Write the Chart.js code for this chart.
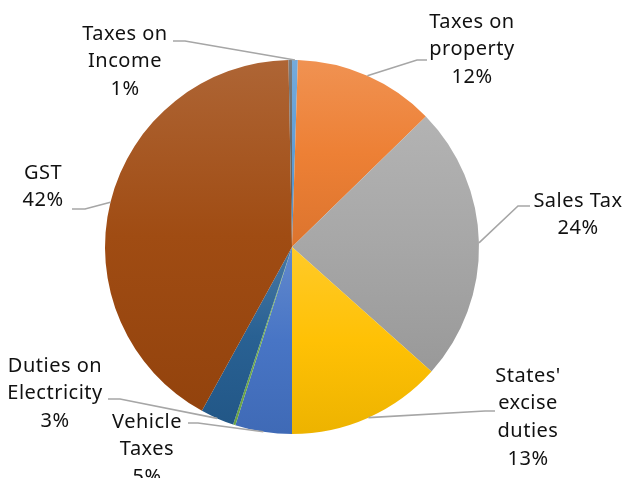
<!DOCTYPE html>
<html>
<head>
<meta charset="utf-8">
<script src="https://cdn.jsdelivr.net/npm/chart.js@4.4.1/dist/chart.umd.min.js"></script>
<style>
  html, body { margin: 0; padding: 0; background: #ffffff; }
  #wrap { width: 627px; height: 478px; position: relative; }
</style>
</head>
<body>
<div id="wrap"><canvas id="c" width="627" height="478"></canvas></div>
<script>
// ---- data ----
const categories = [
  ["Taxes on", "Income"],
  ["Taxes on", "property"],
  ["Sales Tax"],
  ["States'", "excise", "duties"],
  ["Vehicle", "Taxes"],
  ["Other"],
  ["Duties on", "Electricity"],
  ["GST"],
  ["Others"]
];
const shares = [0.5, 12.2, 23.9, 13.4, 4.9, 0.2, 2.9, 41.7, 0.3];
const showLabel = [true, true, true, true, true, false, true, true, false];

// ---- styles ----
const baseColors = ["#5B9BD5", "#ED7D31", "#A5A5A5", "#FFC000", "#4472C4", "#70AD47", "#255E91", "#9E480E", "#636363"];

// label layout: centre x, first line centre y, leader start (x,y), elbow x
const labelLayout = {
  0: { cx: 125, cy: 34, sx: 173, sy: 41, ex: 185 },
  1: { cx: 472, cy: 22, sx: 427, sy: 60, ex: 417 },
  2: { cx: 578, cy: 201, sx: 530, sy: 206, ex: 518 },
  3: { cx: 528, cy: 376, sx: 495, sy: 411, ex: 485 },
  4: { cx: 147, cy: 422, sx: 188, sy: 423, ex: 198 },
  6: { cx: 55, cy: 366, sx: 108, sy: 399, ex: 120 },
  7: { cx: 43, cy: 173, sx: 72, sy: 209, ex: 85 }
};
const LINE_H = 27.6;
const FONT = '20px "Noto Sans", "DejaVu Sans", sans-serif';

function hexToRgb(h) {
  const n = parseInt(h.slice(1), 16);
  return [(n >> 16) & 255, (n >> 8) & 255, n & 255];
}
function mix(rgb, target, t) {
  return 'rgb(' + rgb.map((v, i) => Math.round(v + (target[i] - v) * t)).join(',') + ')';
}

function sliceGradient(ctx) {
  const chart = ctx.chart;
  const area = chart.chartArea;
  const base = baseColors[ctx.dataIndex];
  if (!area) return base;
  const cx = (area.left + area.right) / 2;
  const cy = (area.top + area.bottom) / 2;
  const r = Math.min(area.right - area.left, area.bottom - area.top) / 2;
  const data = ctx.dataset.data;
  const total = data.reduce((a, b) => a + b, 0);
  let before = 0;
  for (let i = 0; i < ctx.dataIndex; i++) before += data[i];
  const a0 = -Math.PI / 2 + before / total * 2 * Math.PI;
  const a1 = a0 + data[ctx.dataIndex] / total * 2 * Math.PI;
  let minY = cy, maxY = cy;
  const steps = 60;
  for (let k = 0; k <= steps; k++) {
    const a = a0 + (a1 - a0) * k / steps;
    const y = cy + r * Math.sin(a);
    minY = Math.min(minY, y);
    maxY = Math.max(maxY, y);
  }
  if (maxY - minY < 1) maxY = minY + 1;
  const rgb = hexToRgb(base);
  const g = chart.ctx.createLinearGradient(0, minY, 0, maxY);
  g.addColorStop(0, mix(rgb, [255, 255, 255], 0.16));
  g.addColorStop(0.5, mix(rgb, [255, 255, 255], 0.02));
  g.addColorStop(1, mix(rgb, [0, 0, 0], 0.07));
  return g;
}

const labelPlugin = {
  id: 'pieLabels',
  afterDatasetsDraw(chart) {
    const ctx = chart.ctx;
    const meta = chart.getDatasetMeta(0);
    const data = chart.data.datasets[0].data;
    const total = data.reduce((a, b) => a + b, 0);
    ctx.save();
    meta.data.forEach((arc, i) => {
      if (!showLabel[i]) return;
      const L = labelLayout[i];
      const mid = (arc.startAngle + arc.endAngle) / 2;
      const px = arc.x + arc.outerRadius * Math.cos(mid);
      const py = arc.y + arc.outerRadius * Math.sin(mid);
      // leader line
      ctx.strokeStyle = '#A6A6A6';
      ctx.lineWidth = 1.6;
      ctx.beginPath();
      ctx.moveTo(L.sx, L.sy);
      ctx.lineTo(L.ex, L.sy);
      ctx.lineTo(px, py);
      ctx.stroke();
      // text
      const lines = chart.data.labels[i].slice();
      lines.push(Math.round(data[i] / total * 100) + '%');
      ctx.fillStyle = '#111111';
      ctx.font = FONT;
      if ('letterSpacing' in ctx) ctx.letterSpacing = '0.5px';
      ctx.textAlign = 'center';
      ctx.textBaseline = 'middle';
      lines.forEach((t, k) => ctx.fillText(t, L.cx, L.cy + k * LINE_H));
    });
    ctx.restore();
  }
};

new Chart(document.getElementById('c'), {
  type: 'pie',
  data: {
    labels: categories,
    datasets: [{
      data: shares,
      backgroundColor: sliceGradient,
      borderWidth: 0
    }]
  },
  options: {
    responsive: false,
    animation: false,
    layout: { padding: { left: 105, right: 148, top: 60, bottom: 44 } },
    plugins: {
      legend: { display: false },
      tooltip: { enabled: false },
      title: { display: false }
    }
  },
  plugins: [labelPlugin]
});
</script>
</body>
</html>
